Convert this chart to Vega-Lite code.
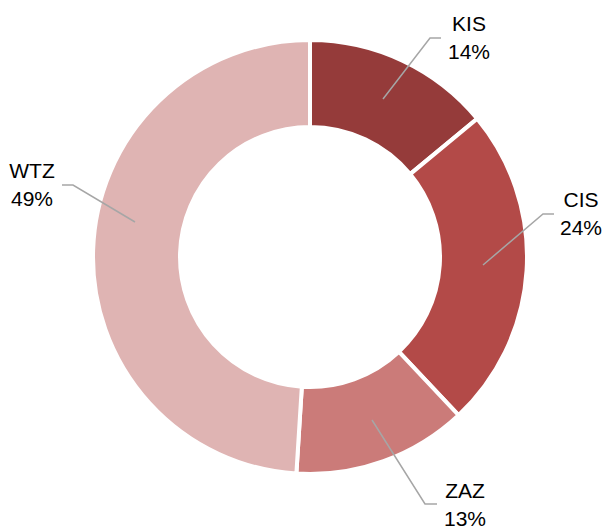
{
  "$schema": "https://vega.github.io/schema/vega-lite/v6.json",
  "width": 560,
  "height": 500,
  "autosize": {"type": "none"},
  "padding": {"left": 30, "top": 7, "right": 15, "bottom": 22},
  "background": "white",
  "config": {"view": {"stroke": null}},
  "datasets": {
    "slices": [
      {"cat": "KIS", "share": 14, "ord": 1},
      {"cat": "CIS", "share": 24, "ord": 2},
      {"cat": "ZAZ", "share": 13, "ord": 3},
      {"cat": "WTZ", "share": 49, "ord": 4}
    ],
    "leaders": [
      {"cat": "KIS", "step": 1, "lx": 73, "ly": -158},
      {"cat": "KIS", "step": 2, "lx": 120, "ly": -219},
      {"cat": "KIS", "step": 3, "lx": 131, "ly": -219},
      {"cat": "CIS", "step": 1, "lx": 173, "ly": 8},
      {"cat": "CIS", "step": 2, "lx": 233, "ly": -43},
      {"cat": "CIS", "step": 3, "lx": 244, "ly": -43},
      {"cat": "ZAZ", "step": 1, "lx": 62, "ly": 163},
      {"cat": "ZAZ", "step": 2, "lx": 115, "ly": 247},
      {"cat": "ZAZ", "step": 3, "lx": 127, "ly": 247},
      {"cat": "WTZ", "step": 1, "lx": -175, "ly": -35},
      {"cat": "WTZ", "step": 2, "lx": -237, "ly": -72},
      {"cat": "WTZ", "step": 3, "lx": -248, "ly": -72}
    ],
    "labels": [
      {"cat": "KIS", "label": "KIS\n14%", "tx": 159, "ty": -232},
      {"cat": "CIS", "label": "CIS\n24%", "tx": 271, "ty": -56},
      {"cat": "ZAZ", "label": "ZAZ\n13%", "tx": 155, "ty": 235},
      {"cat": "WTZ", "label": "WTZ\n49%", "tx": -278, "ty": -85}
    ]
  },
  "layer": [
    {
      "data": {"name": "slices"},
      "mark": {"type": "arc", "outerRadius": 217, "innerRadius": 130, "stroke": "white", "strokeWidth": 4},
      "encoding": {
        "theta": {"field": "share", "type": "quantitative", "stack": true},
        "order": {"field": "ord", "type": "quantitative"},
        "color": {
          "field": "cat", "type": "nominal", "legend": null,
          "scale": {"domain": ["KIS", "CIS", "ZAZ", "WTZ"], "range": ["#953b3a", "#b34a48", "#cb7b79", "#dfb4b3"]}
        }
      }
    },
    {
      "data": {"name": "leaders"},
      "mark": {"type": "line", "color": "#a6a6a6", "strokeWidth": 1.5},
      "encoding": {
        "x": {"field": "lx", "type": "quantitative", "scale": {"domain": [-280, 280]}, "axis": null},
        "y": {"field": "ly", "type": "quantitative", "scale": {"domain": [-250, 250], "reverse": true}, "axis": null},
        "detail": {"field": "cat"},
        "order": {"field": "step", "type": "quantitative"}
      }
    },
    {
      "data": {"name": "labels"},
      "mark": {"type": "text", "font": "Liberation Sans", "fontSize": 21, "lineBreak": "\n", "lineHeight": 28, "align": "center", "baseline": "middle", "color": "#000000"},
      "encoding": {
        "x": {"field": "tx", "type": "quantitative", "scale": {"domain": [-280, 280]}, "axis": null},
        "y": {"field": "ty", "type": "quantitative", "scale": {"domain": [-250, 250], "reverse": true}, "axis": null},
        "text": {"field": "label"}
      }
    }
  ]
}
